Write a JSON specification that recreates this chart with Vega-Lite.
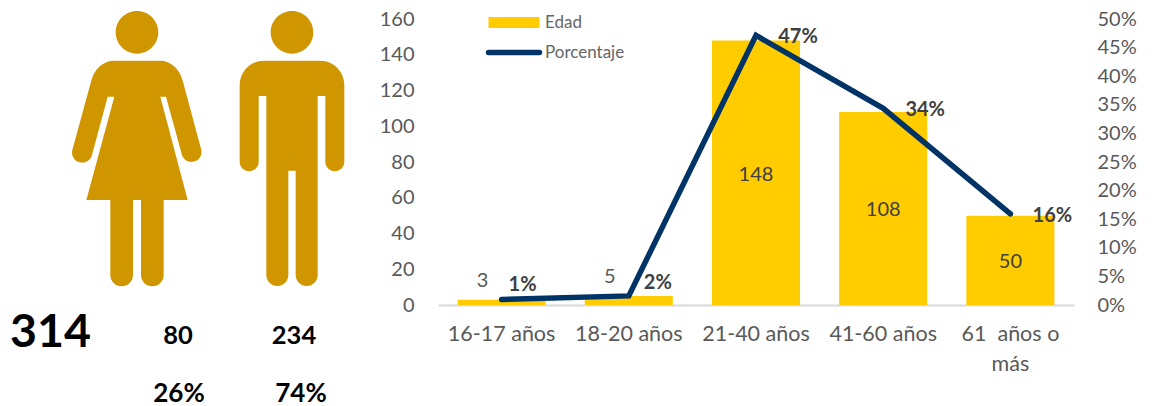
{
"$schema":"https://vega.github.io/schema/vega-lite/v6.json",
"padding":0,
"background":"white",
"bounds":"flush",
"spacing":0,
"config":{"view":{"stroke":null},"text":{"font":"Lato"},"axis":{"labelFont":"Lato"},"legend":{"labelFont":"Lato"}},
"hconcat":[
{
"width":438,"height":406,
"data":{"values":[{"genero":"Mujeres","n":80,"pct":0.26,"total":314},{"genero":"Hombres","n":234,"pct":0.74,"total":314}]},
"resolve":{"scale":{"x":"independent","y":"independent"}},
"layer":[
{"mark":{"type":"point","filled":true,"size":0.4444,"opacity":1,"color":"#D09600"},
 "encoding":{
  "x":{"field":"genero","type":"nominal","axis":null,"scale":{"type":"point","padding":0,"domain":["Mujeres","Hombres"],"range":[137,292]}},
  "y":{"datum":"figura","type":"nominal","axis":null,"scale":{"type":"point","padding":0,"domain":["figura"],"range":[148.3,148.3]}},
  "shape":{"field":"genero","type":"nominal","legend":null,"scale":{"domain":["Mujeres","Hombres"],"range":[
   "M-64,-348A64,64,0,1,1,64,-348A64,64,0,1,1,-64,-348ZM-70,-263L70,-263C100,-263,128,-240,138,-200L193,5A30,30,0,0,1,135,20L87,-155L70,-155L152,155L80,155L80,380A34,34,0,0,1,12,380L12,155L-12,155L-12,380A34,34,0,0,1,-80,380L-80,155L-152,155L-68,-155L-88,-155L-135,20A30,30,0,0,1,-194,5L-138,-200C-128,-240,-100,-263,-70,-263Z",
   "M-64,-348A64,64,0,1,1,64,-348A64,64,0,1,1,-64,-348ZM-85,-263L85,-263C125,-263,157,-230,157,-190L157,40A28.5,28.5,0,0,1,100,40L100,-157L77,-157L77,380A33,33,0,0,1,11,380L11,67L-11,67L-11,380A33,33,0,0,1,-77,380L-77,-157L-100,-157L-100,40A28.5,28.5,0,0,1,-157,40L-157,-190C-157,-230,-125,-263,-85,-263Z"
  ]}}
 }},
{"transform":[{"filter":"datum.genero == 'Mujeres'"}],
 "mark":{"type":"text","fontSize":46.5,"fontWeight":"bold","color":"#000000","align":"center","baseline":"middle"},
 "encoding":{
  "text":{"field":"total","type":"quantitative"},
  "x":{"datum":"total","type":"nominal","axis":null,"scale":{"type":"point","padding":0,"domain":["total"],"range":[50.5,50.5]}},
  "y":{"datum":"total","type":"nominal","axis":null,"scale":{"type":"point","padding":0,"domain":["total"],"range":[333,333]}}
 }},
{"mark":{"type":"text","fontSize":25.5,"fontWeight":"bold","color":"#000000","align":"center","baseline":"middle"},
 "encoding":{
  "text":{"field":"n","type":"quantitative"},
  "x":{"field":"genero","type":"nominal","axis":null,"scale":{"type":"point","padding":0,"domain":["Mujeres","Hombres"],"range":[178,294]}},
  "y":{"datum":"n","type":"nominal","axis":null,"scale":{"type":"point","padding":0,"domain":["n"],"range":[336,336]}}
 }},
{"mark":{"type":"text","fontSize":26,"fontWeight":"bold","color":"#000000","align":"center","baseline":"middle"},
 "encoding":{
  "text":{"field":"pct","type":"quantitative","format":".0%"},
  "x":{"field":"genero","type":"nominal","axis":null,"scale":{"type":"point","padding":0,"domain":["Mujeres","Hombres"],"range":[179,301]}},
  "y":{"datum":"pct","type":"nominal","axis":null,"scale":{"type":"point","padding":0,"domain":["pct"],"range":[394,394]}}
 }}
]
},
{
"width":636,"height":305,
"data":{"values":[
 {"grupo":"16-17 años","edad":3,"porcentaje":0.0096},
 {"grupo":"18-20 años","edad":5,"porcentaje":0.0159},
 {"grupo":"21-40 años","edad":148,"porcentaje":0.4713},
 {"grupo":"41-60 años","edad":108,"porcentaje":0.3439},
 {"grupo":"61  años o más","edad":50,"porcentaje":0.1592}
]},
"resolve":{"scale":{"y":"independent"}},
"encoding":{
 "x":{"field":"grupo","type":"nominal","sort":null,"title":null,
  "scale":{"paddingInner":0.308,"paddingOuter":0.154},
  "axis":{"labelAngle":0,"labelFontSize":21.5,"labelColor":"#595959","labelPadding":18,"ticks":false,"domainColor":"#D9D9D9","domainWidth":2,"labelLineHeight":30,
   "labelExpr":"datum.label == '61  años o más' ? ['61\u00a0\u00a0años o','más'] : datum.label"}}
},
"layer":[
{"mark":{"type":"bar"},
 "encoding":{
  "y":{"field":"edad","type":"quantitative","title":null,"scale":{"domain":[0,170.63],"nice":false},
   "axis":{"values":[0,20,40,60,80,100,120,140,160],"grid":false,"domain":false,"ticks":false,"labelFontSize":20,"labelColor":"#595959","labelPadding":24}},
  "fill":{"datum":"Edad","type":"nominal","scale":{"range":["#FFCC00"]},
   "legend":{"title":null,"orient":"none","legendX":505.5,"legendY":14,"symbolType":"M-5.1,-1.1H5.1V1.1H-5.1Z","symbolSize":100,"labelFontSize":17,"labelColor":"#666666","labelOffset":22.5,"symbolStrokeWidth":0}}
 }},
{"mark":{"type":"line","strokeWidth":5.5,"strokeCap":"round","strokeJoin":"miter"},
 "encoding":{
  "y":{"field":"porcentaje","type":"quantitative","title":null,"scale":{"domain":[0,0.53322],"nice":false},
   "axis":{"orient":"right","values":[0,0.05,0.1,0.15,0.2,0.25,0.3,0.35,0.4,0.45,0.5],"format":".0%","grid":false,"domain":false,"ticks":false,"labelFontSize":20,"labelColor":"#595959","labelPadding":23}},
  "stroke":{"datum":"Porcentaje","type":"nominal","scale":{"range":["#003366"]},
   "legend":{"title":null,"orient":"none","legendX":505.5,"legendY":44,"symbolType":"M-5.1,-0.2H5.1A0.2,0.2,0,0,1,5.1,0.2H-5.1A0.2,0.2,0,0,1,-5.1,-0.2Z","symbolSize":100,"symbolStrokeWidth":3.5,"labelFontSize":17,"labelColor":"#666666","labelOffset":22.5}}
 }},
{"transform":[{"filter":"datum.edad < 10"}],
 "mark":{"type":"text","fontSize":20,"color":"#595959","dx":-19,"dy":-19,"align":"center","baseline":"middle"},
 "encoding":{
  "y":{"field":"edad","type":"quantitative","axis":null,"scale":{"domain":[0,170.63],"nice":false}},
  "text":{"field":"edad","type":"quantitative"}
 }},
{"transform":[{"filter":"datum.edad >= 10"}],
 "mark":{"type":"text","fontSize":20,"color":"#404040","align":"center","baseline":"middle","dy":2},
 "encoding":{
  "y":{"field":"edad","type":"quantitative","axis":null,"scale":{"domain":[0,341.26],"nice":false}},
  "text":{"field":"edad","type":"quantitative"}
 }},
{"transform":[{"filter":"datum.grupo == '16-17 años'"}],
 "mark":{"type":"text","fontSize":20,"fontWeight":"bold","color":"#404040","dx":21,"dy":-15,"align":"center","baseline":"middle"},
 "encoding":{
  "y":{"field":"porcentaje","type":"quantitative","axis":null,"scale":{"domain":[0,0.53322],"nice":false}},
  "text":{"field":"porcentaje","type":"quantitative","format":".0%"}
 }},
{"transform":[{"filter":"datum.grupo == '18-20 años'"}],
 "mark":{"type":"text","fontSize":20,"fontWeight":"bold","color":"#404040","dx":29,"dy":-13,"align":"center","baseline":"middle"},
 "encoding":{
  "y":{"field":"porcentaje","type":"quantitative","axis":null,"scale":{"domain":[0,0.53322],"nice":false}},
  "text":{"field":"porcentaje","type":"quantitative","format":".0%"}
 }},
{"transform":[{"filter":"datum.edad >= 10"}],
 "mark":{"type":"text","fontSize":20,"fontWeight":"bold","color":"#404040","dx":42,"dy":2,"align":"center","baseline":"middle"},
 "encoding":{
  "y":{"field":"porcentaje","type":"quantitative","axis":null,"scale":{"domain":[0,0.53322],"nice":false}},
  "text":{"field":"porcentaje","type":"quantitative","format":".0%"}
 }}
]
}
]
}
